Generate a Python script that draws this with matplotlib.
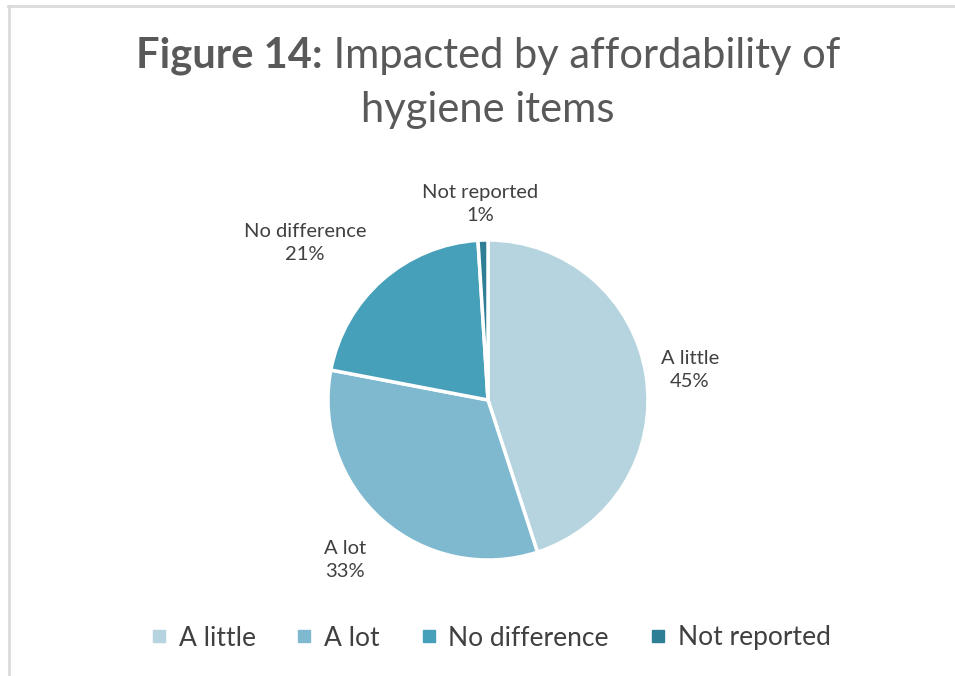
import matplotlib
matplotlib.use("Agg")
import matplotlib.pyplot as plt
from matplotlib.lines import Line2D

labels = ["A little", "A lot", "No difference", "Not reported"]
values = [45, 33, 21, 1]
colors = ["#B6D4DF", "#7EB9CF", "#47A0BA", "#2E7F95"]

plt.rcParams['font.family'] = ['Lato', 'DejaVu Sans']
txt = "#404040"

fig = plt.figure(figsize=(9.55, 6.76), dpi=100)
W, H = 955, 676

# pie axes: center ~ (488, 400), radius ~160 px
r = 160
cx, cy = 488, 400
ax = fig.add_axes([(cx - r) / W, 1 - (cy + r) / H, 2 * r / W, 2 * r / H])
wedges, _ = ax.pie(values, colors=colors, startangle=90, counterclock=False,
                   wedgeprops=dict(edgecolor="white", linewidth=2.5))
ax.set_xlim(-1, 1)
ax.set_ylim(-1, 1)
ax.set_aspect("equal")

# data labels
label_pos = [(690, 370), (345, 560), (305, 243), (480, 204)]
for lab, v, (x, y) in zip(labels, values, label_pos):
    fig.text(x / W, 1 - y / H, f"{lab}\n{v}%", ha="center", va="center",
             fontsize=14.5, color=txt, linespacing=1.45)

# title, first line has a bold part
fig.canvas.draw()
rend = fig.canvas.get_renderer()
tsize = 30
t_color = "#595959"
t1 = fig.text(0, 1 - 56 / H, "Figure 14:", fontsize=tsize, fontweight="bold",
              color=t_color, va="center", ha="left")
t2 = fig.text(0, 1 - 56 / H, " Impacted by affordability of", fontsize=tsize,
              color=t_color, va="center", ha="left")
w1 = t1.get_window_extent(rend).width
w2 = t2.get_window_extent(rend).width
x0 = 488 - (w1 + w2) / 2
t1.set_x(x0 / W)
t2.set_x((x0 + w1) / W)
fig.text(488 / W, 1 - 110 / H, "hygiene items", fontsize=tsize, color=t_color,
         ha="center", va="center")

# legend
handles = [Line2D([], [], marker="s", linestyle="none", markersize=9,
                  markerfacecolor=c, markeredgecolor=c) for c in colors]
fig.legend(handles, labels, loc="center", bbox_to_anchor=(490 / W, 1 - 638 / H),
           ncol=4, frameon=False, fontsize=19, labelcolor=txt,
           handlelength=0.7, handletextpad=0.4, columnspacing=1.5)

# chart frame: top and left lines
fig.add_artist(Line2D([8 / W, 1], [1 - 6 / H, 1 - 6 / H], color="#DADADA", linewidth=2))
fig.add_artist(Line2D([9 / W, 9 / W], [0, 1 - 6 / H], color="#DADADA", linewidth=2))

fig.savefig("out.png", dpi=100, facecolor="white")
